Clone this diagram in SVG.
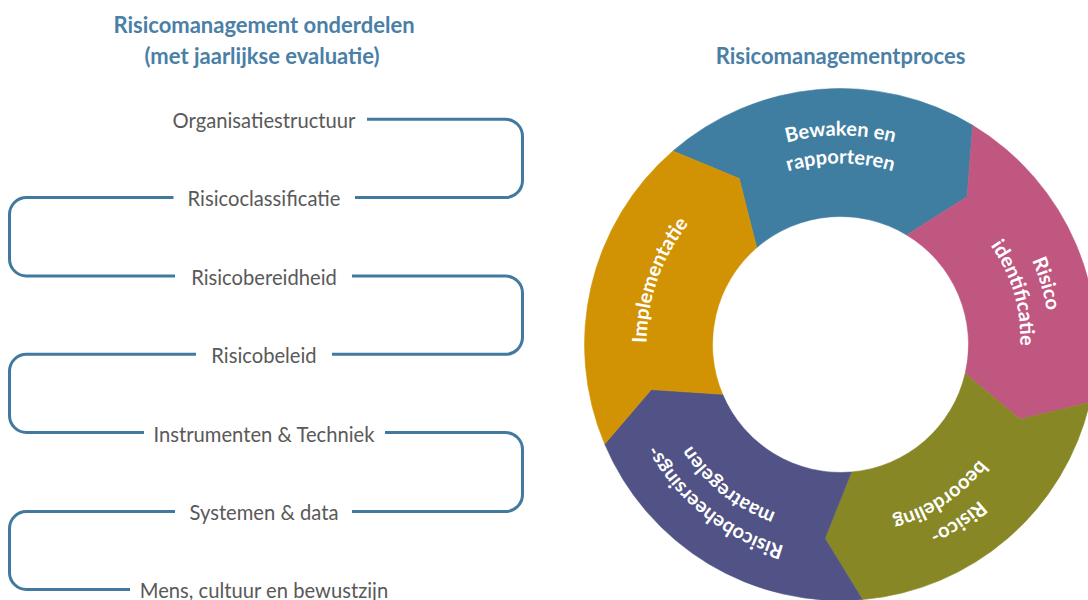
<svg xmlns="http://www.w3.org/2000/svg" width="1088" height="600" viewBox="0 0 1088 600">
<style>
.title{font-family:Lato,"Liberation Sans",sans-serif;font-weight:bold;font-size:22px;fill:#4A7FA6;text-anchor:middle}
.item{font-family:Lato,"Liberation Sans",sans-serif;font-size:20.2px;fill:#595959;text-anchor:middle}
.conn{fill:none;stroke:#41799F;stroke-width:3}
.lbl{font-family:Lato,"Liberation Sans",sans-serif;font-weight:bold;font-size:20px;fill:#FFFFFF}
.seg{stroke-width:0.6}
</style>
<defs>
<path id="pB1" d="M 840.5 553.5 A 209 209 0 0 1 840.5 135.5 A 209 209 0 0 1 840.5 553.5"/>
<path id="pB2" d="M 840.5 525.5 A 181 181 0 0 1 840.5 163.5 A 181 181 0 0 1 840.5 525.5"/>
<path id="pP1" d="M 640.1 403.9 A 209 209 0 0 1 1040.9 285.1 A 209 209 0 0 1 640.1 403.9"/>
<path id="pP2" d="M 667.0 395.9 A 181 181 0 0 1 1014.0 293.1 A 181 181 0 0 1 667.0 395.9"/>
<path id="pO1" d="M 725.2 170.2 A 209 209 0 0 1 955.8 518.8 A 209 209 0 0 1 725.2 170.2"/>
<path id="pO2" d="M 740.6 193.6 A 181 181 0 0 1 940.4 495.4 A 181 181 0 0 1 740.6 193.6"/>
<path id="pU1" d="M 970.6 180.9 A 209 209 0 0 1 710.4 508.1 A 209 209 0 0 1 970.6 180.9"/>
<path id="pU2" d="M 953.2 202.9 A 181 181 0 0 1 727.8 486.1 A 181 181 0 0 1 953.2 202.9"/>
<path id="pG1" d="M 1023.4 409.3 A 194 194 0 0 1 657.6 279.7 A 194 194 0 0 1 1023.4 409.3"/>
</defs>

<g id="titles">
<text class="title" x="264" y="32.5">Risicomanagement onderdelen</text>
<text class="title" x="262" y="64">(met jaarlijkse evaluatie)</text>
<text class="title" x="840.5" y="64">Risicomanagementproces</text>
</g>

<g id="connectors">
<path class="conn" d="M 367 119.3 H 505.5 A 17 17 0 0 1 522.5 136.3 V 180.5 A 17 17 0 0 1 505.5 197.5 H 355"/>
<path class="conn" d="M 173.5 197.5 H 26.5 A 17 17 0 0 0 9.5 214.5 V 259 A 17 17 0 0 0 26.5 276 H 175"/>
<path class="conn" d="M 352 276 H 505.5 A 17 17 0 0 1 522.5 293 V 337.3 A 17 17 0 0 1 505.5 354.3 H 332"/>
<path class="conn" d="M 196 354.3 H 26.5 A 17 17 0 0 0 9.5 371.3 V 415.5 A 17 17 0 0 0 26.5 432.5 H 144"/>
<path class="conn" d="M 385 432.5 H 505.5 A 17 17 0 0 1 522.5 449.5 V 494.5 A 17 17 0 0 1 505.5 511.5 H 352"/>
<path class="conn" d="M 175 511.5 H 26.5 A 17 17 0 0 0 9.5 528.5 V 572.5 A 17 17 0 0 0 26.5 589.5 H 130"/>
</g>

<g id="n-organisatiestructuur"><text class="item" x="264" y="127.5">Organisatiestructuur</text></g>
<g id="n-risicoclassificatie"><text class="item" x="264" y="206">Risicoclassificatie</text></g>
<g id="n-risicobereidheid"><text class="item" x="264" y="284.5">Risicobereidheid</text></g>
<g id="n-risicobeleid"><text class="item" x="264" y="363">Risicobeleid</text></g>
<g id="n-instrumenten"><text class="item" x="264" y="441.5">Instrumenten &amp; Techniek</text></g>
<g id="n-systemen"><text class="item" x="264" y="519.5">Systemen &amp; data</text></g>
<g id="n-mens"><text class="item" x="264" y="598">Mens, cultuur en bewustzijn</text></g>

<g id="seg-bewaken">
<path class="seg" fill="#407EA1" stroke="#407EA1" d="M 672.9 151.0 A 256 256 0 0 1 972.7 125.3 L 967.1 196.8 L 906.6 234.9 A 128 128 0 0 0 756.7 247.7 L 739.2 178.5 Z"/>
<text class="lbl"><textPath href="#pB1" startOffset="50%" text-anchor="middle">Bewaken en</textPath></text>
<text class="lbl"><textPath href="#pB2" startOffset="50%" text-anchor="middle">rapporteren</textPath></text>
</g>
<g id="seg-identificatie">
<path class="seg" fill="#C05781" stroke="#C05781" d="M 972.7 125.3 A 256 256 0 0 1 1089.8 402.5 L 1020.1 419.2 L 965.2 373.5 A 128 128 0 0 0 906.6 234.9 L 967.1 196.8 Z"/>
<text class="lbl"><textPath href="#pP1" startOffset="50%" text-anchor="middle">Risico</textPath></text>
<text class="lbl"><textPath href="#pP2" startOffset="50%" text-anchor="middle">identificatie</textPath></text>
</g>
<g id="seg-beoordeling">
<path class="seg" fill="#878725" stroke="#878725" d="M 1089.8 402.5 A 256 256 0 0 1 862.4 599.6 L 824.9 538.4 L 851.4 472.0 A 128 128 0 0 0 965.2 373.5 L 1020.1 419.2 Z"/>
<text class="lbl"><textPath href="#pO1" startOffset="50%" text-anchor="middle">Risico-</textPath></text>
<text class="lbl"><textPath href="#pO2" startOffset="50%" text-anchor="middle">beoordeling</textPath></text>
</g>
<g id="seg-maatregelen">
<path class="seg" fill="#515386" stroke="#515386" d="M 862.4 599.6 A 256 256 0 0 1 604.7 444.1 L 651.3 389.6 L 722.6 394.3 A 128 128 0 0 0 851.4 472.0 L 824.9 538.4 Z"/>
<text class="lbl"><textPath href="#pU1" startOffset="50%" text-anchor="middle">Risicobeheersings-</textPath></text>
<text class="lbl"><textPath href="#pU2" startOffset="50%" text-anchor="middle">maatregelen</textPath></text>
</g>
<g id="seg-implementatie">
<path class="seg" fill="#D19303" stroke="#D19303" d="M 604.7 444.1 A 256 256 0 0 1 672.9 151.0 L 739.2 178.5 L 756.7 247.7 A 128 128 0 0 0 722.6 394.3 L 651.3 389.6 Z"/>
<text class="lbl"><textPath href="#pG1" startOffset="50%" text-anchor="middle">Implementatie</textPath></text>
</g>
</svg>
